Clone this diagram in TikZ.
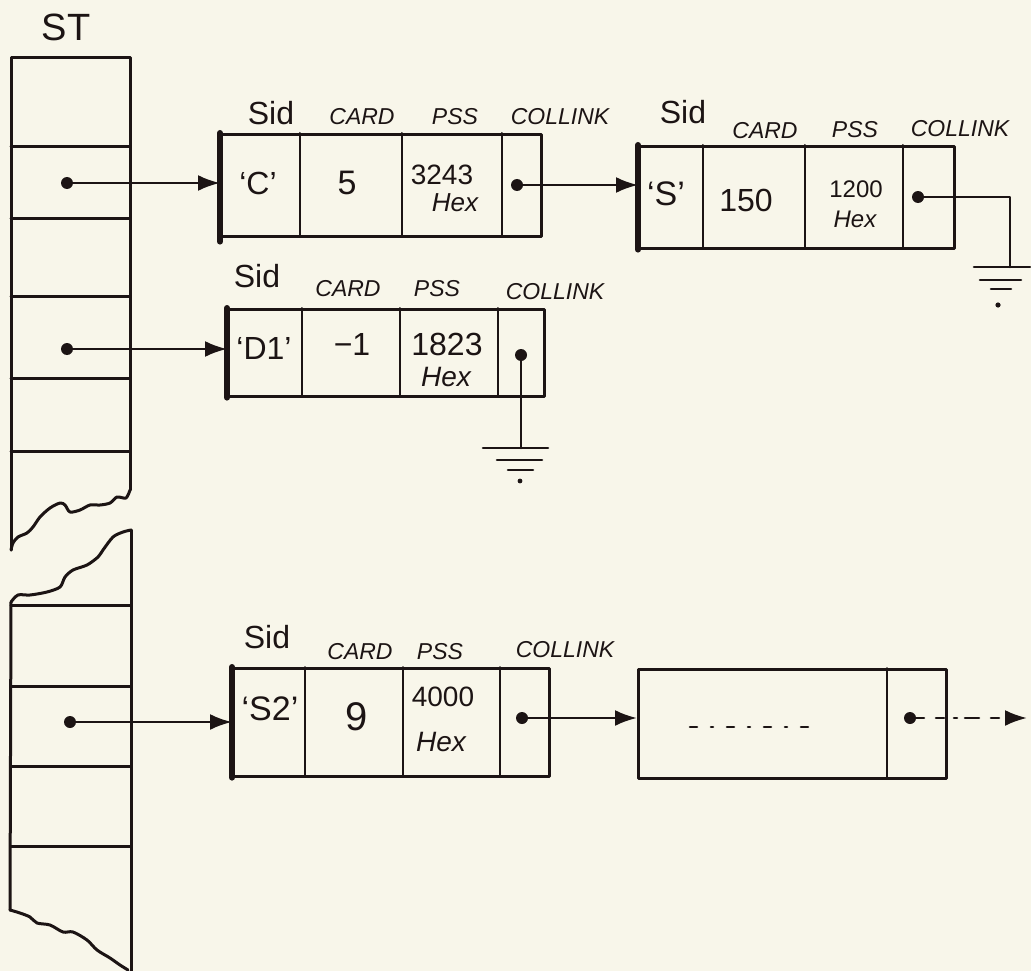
\documentclass[tikz,border=0pt]{standalone}
\usepackage{fontspec}
\setmainfont{Liberation Sans}
\usetikzlibrary{arrows.meta}
\definecolor{paper}{RGB}{248,246,234}
\definecolor{ink}{RGB}{28,20,20}
\begin{document}
\begin{tikzpicture}[x=1pt,y=-1pt,line join=round,line cap=round,
  every node/.style={inner sep=0pt,text=ink},
  tbl/.style={draw=ink,line width=3pt},
  frame/.style={draw=ink,line width=2.6pt,anchor=north west,inner sep=0pt},
  divider/.style={draw=ink,line width=2pt},
  thickedge/.style={draw=ink,line width=6pt},
  wire/.style={draw=ink,line width=2.6pt},
  link/.style={wire,-{Latex[length=22pt,width=16pt]}},
  hd/.style={font=\itshape\fontsize{23}{23}\selectfont},
  sidlbl/.style={font=\fontsize{32}{32}\selectfont},
  val/.style={font=\fontsize{#1}{#1}\selectfont},
  hexlbl/.style={font=\itshape\fontsize{#1}{#1}\selectfont},
  ptr/.style={circle,fill=ink,minimum size=12pt,inner sep=0pt},
  gnd/.style={draw=ink,line width=2.6pt}]
\useasboundingbox (0,0) rectangle (1031,971);
\fill[paper] (0,0) rectangle (1031,971);

% ---------------- ST table ----------------
\node[font=\fontsize{38}{38}\selectfont] (st) at (66,27) {ST};
% upper piece
\draw[tbl] (130,490) -- (130,58) -- (11,58) -- (11,550);
\draw[tbl] plot[smooth] coordinates {(11,550) (13,543) (18,537) (27,533) (33,527) (40,517) (50,508) (60,503) (65,505) (70,512) (80,510) (90,505) (100,505) (110,503) (117,497) (126,498) (130,490)};
\foreach \yy in {147,218,296,378,451} \draw[tbl] (11,\yy) -- (130,\yy);
% lower piece
\draw[tbl] plot[smooth] coordinates {(131,530) (123,532) (113,537) (103,550) (98,557) (87,565) (73,570) (65,577) (60,587) (47,592) (30,595) (18,595) (11,602)};
\draw[tbl] (131,530) -- (131,971);
\draw[tbl] (11,602) -- (10,910);
\draw[tbl] plot[smooth] coordinates {(10,910) (20,913) (30,917) (37,923) (50,925) (63,932) (73,932) (87,940) (97,950) (110,958) (120,965) (128,970)};
\foreach \yy in {605,686,766,846} \draw[tbl] (11,\yy) -- (131,\yy);

% ---------------- record 1 ----------------
\node[frame,minimum width=320pt,minimum height=102pt] (b1) at (220,133) {};
\draw[thickedge] (b1.north west) -- ([yshift=-4pt]b1.south west);
\foreach \xx in {300,402,502} \draw[divider] (\xx,133) -- (\xx,235);
\node[sidlbl] (b1h1) at (271,113) {Sid};
\node[hd] (b1h2) at (362,117) {CARD};
\node[hd] (b1h3) at (455,117) {PSS};
\node[hd] (b1h4) at (560,117) {COLLINK};
\node[val=32] (b1v1) at (258,183) {`C'};
\node[val=34] (b1v2) at (347,183) {5};
\node[val=28] (b1v3) at (442,175) {3243};
\node[hexlbl=26] (b1v4) at (455,203) {Hex};
\node[ptr] (d1) at (517,185) {};

% ---------------- record 2 ----------------
\node[frame,minimum width=315pt,minimum height=102pt] (b2) at (638,145) {};
\draw[thickedge] (b2.north west) -- (b2.south west);
\foreach \xx in {703,805,903} \draw[divider] (\xx,145) -- (\xx,247);
\node[sidlbl] (b2h1) at (683,112) {Sid};
\node[hd] (b2h2) at (765,131) {CARD};
\node[hd] (b2h3) at (855,130) {PSS};
\node[hd] (b2h4) at (960,129) {COLLINK};
\node[val=34] (b2v1) at (666,194) {`S'};
\node[val=32] (b2v2) at (746,200) {150};
\node[val=24] (b2v3) at (856,189) {1200};
\node[hexlbl=24] (b2v4) at (855,219) {Hex};
\node[ptr] (d2) at (918,197) {};
\coordinate (g2) at (1010,267);
\draw[wire] (d2.center) -| (g2);
\draw[gnd] (974,267) -- (1030,267);
\draw[gnd] (980,280) -- (1021,280);
\draw[gnd] (991,289) -- (1011,289);
\fill[ink] (998,305) circle (2.6pt);

% ---------------- record 3 ----------------
\node[frame,minimum width=316pt,minimum height=87pt] (b3) at (227,308) {};
\draw[thickedge] (b3.north west) -- (b3.south west);
\foreach \xx in {302,400,498} \draw[divider] (\xx,308) -- (\xx,395);
\node[sidlbl] (b3h1) at (257,276) {Sid};
\node[hd] (b3h2) at (348,289) {CARD};
\node[hd] (b3h3) at (437,289) {PSS};
\node[hd] (b3h4) at (555,292) {COLLINK};
\node[val=32] (b3v1) at (264,348) {`D1'};
\node[val=32] (b3v2) at (352,344) {−1};
\node[val=32] (b3v3) at (447,344) {1823};
\node[hexlbl=28] (b3v4) at (446,377) {Hex};
\node[ptr] (d3) at (521,355) {};
\coordinate (g3) at (521,448);
\draw[wire] (d3.center) -- (g3);
\draw[gnd] (483,448) -- (548,448);
\draw[gnd] (497,460) -- (542,460);
\draw[gnd] (508,470) -- (533,470);
\fill[ink] (520,481) circle (2.4pt);

% ---------------- record 4 ----------------
\node[frame,minimum width=316pt,minimum height=108pt] (b4) at (232,667) {};
\draw[thickedge] (b4.north west) -- (b4.south west);
\foreach \xx in {305,403,500} \draw[divider] (\xx,667) -- (\xx,775);
\node[sidlbl] (b4h1) at (267,637) {Sid};
\node[hd] (b4h2) at (360,652) {CARD};
\node[hd] (b4h3) at (440,652) {PSS};
\node[hd] (b4h4) at (565,650) {COLLINK};
\node[val=34] (b4v1) at (270,709) {`S2'};
\node[val=40] (b4v2) at (357,717) {9};
\node[val=28] (b4v3) at (443,697) {4000};
\node[hexlbl=28] (b4v4) at (441,742) {Hex};
\node[ptr] (d4) at (522,718) {};

% ---------------- record 5 ----------------
\node[frame,minimum width=308pt,minimum height=109pt] (b5) at (637,668) {};
\draw[divider] (887,668) -- (887,777);
\draw[wire,dash pattern=on 7pt off 14pt on 2pt off 14pt] (690,727) -- (816,727);
\node[ptr] (d5) at (910,718) {};
\coordinate (e5) at (1027,718);
\draw[wire,dash pattern=on 14pt off 12pt on 8pt off 10pt on 3pt off 8pt,-{Latex[length=22pt,width=16pt]}] (d5.center) -- (e5);

% ---------------- ST pointers ----------------
\node[ptr] (s1) at (67,183) {};
\node[ptr] (s2) at (67,349) {};
\node[ptr] (s3) at (70,722) {};
\draw[link] (s1.center) -- (s1.center -| b1.west);
\draw[link] (s2.center) -- (s2.center -| b3.west);
\draw[link] (s3.center) -- (s3.center -| b4.west);
\draw[link] (d1.center) -- (d1.center -| b2.west);
\draw[link] (d4.center) -- (d4.center -| b5.west);
\end{tikzpicture}
\end{document}
